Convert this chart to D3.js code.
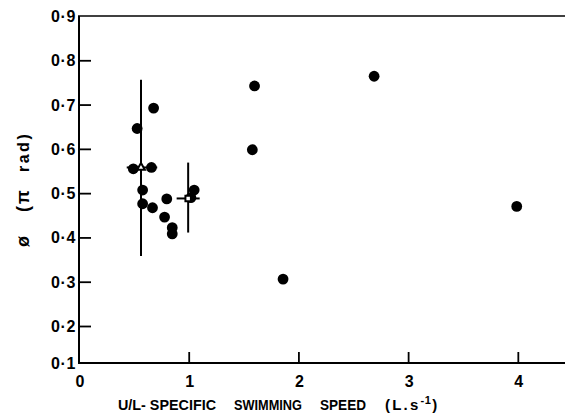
<!DOCTYPE html>
<html>
<head>
<meta charset="utf-8">
<script src="https://cdn.jsdelivr.net/npm/d3@7"></script>
<style>
  html, body { margin: 0; padding: 0; background: #fff; }
  svg { display: block; }
  text { font-family: "Liberation Sans", Arial, Helvetica, sans-serif; font-weight: bold; fill: #000; -webkit-font-smoothing: antialiased; }
</style>
</head>
<body>
<svg id="chart" width="568" height="419"></svg>
<script>
// Individual fish: U/L-specific swimming speed (L/s) and phase (pi rad)
const speed = [0.68, 0.53, 0.495, 0.66, 0.58, 0.58, 0.67, 0.80, 0.78, 0.85, 0.85, 1.05, 1.02, 1.60, 1.58, 1.86, 2.69, 3.99];
const phase = [0.692, 0.646, 0.555, 0.558, 0.507, 0.476, 0.467, 0.487, 0.446, 0.422, 0.408, 0.507, 0.49, 0.742, 0.598, 0.306, 0.764, 0.47];

// Group means with ranges
const meanShape = ["triangle", "square"];
const meanSpeed = [0.565, 0.995];
const meanPhase = [0.558, 0.488];
const speedLo = [0.435, 0.89];
const speedHi = [0.713, 1.10];
const phaseLo = [0.358, 0.411];
const phaseHi = [0.756, 0.569];

// Tick labels
const xTicks = [0, 1, 2, 3, 4];
const xTickLabels = ["0", "1", "2", "3", "4"];
const yTicks = [0.2, 0.3, 0.4, 0.5, 0.6, 0.7, 0.8, 0.9];
const yTickLabels = ["0·2", "0·3", "0·4", "0·5", "0·6", "0·7", "0·8", "0·9"];
const yBottomLabel = "0·1";

// Axis title pieces
const xTitleWords = ["U/L- SPECIFIC", "SWIMMING", "SPEED"];
const xTitleWordX = [118, 234, 320];
const xTitleWordW = [98, 68, 46];
const yTitleParts = ["ø", "(π", "rad)"];

const svg = d3.select("#chart");

const x = d3.scaleLinear().domain([0, 4.43]).range([79, 565]);
// original figure has a compressed lowest interval
const y = d3.scaleLinear().domain([0.1, 0.2, 0.9]).range([363, 326, 16]);

const g = svg.append("g");

// frame lines
g.append("line").attr("x1", x(0)).attr("x2", x(0)).attr("y1", y(0.9)).attr("y2", y(0.1))
  .attr("stroke", "#000").attr("stroke-width", 2);
g.append("line").attr("x1", x(0) - 1).attr("x2", x(4.43)).attr("y1", y(0.1)).attr("y2", y(0.1))
  .attr("stroke", "#000").attr("stroke-width", 2);
g.append("line").attr("x1", x(0) - 1).attr("x2", x(4.43)).attr("y1", y(0.9)).attr("y2", y(0.9))
  .attr("stroke", "#000").attr("stroke-width", 1.6);

// y axis (ticks inward)
const yAxis = d3.axisRight(y).tickValues(yTicks.slice(0, -1)).tickSize(12).tickFormat("");
const ya = g.append("g").attr("transform", `translate(${x(0)},0)`).call(yAxis);
ya.select(".domain").remove();
ya.selectAll(".tick line").attr("stroke", "#000").attr("stroke-width", 1.8);

g.selectAll(".ylab").data(yTicks).join("text")
  .attr("class", "ylab")
  .attr("x", x(0) - 3).attr("y", d => y(d) + 6)
  .attr("text-anchor", "end").attr("font-size", 16).attr("letter-spacing", 0.6)
  .text((d, i) => yTickLabels[i]);
g.append("text").attr("x", x(0) - 3).attr("y", y(0.1) + 6)
  .attr("text-anchor", "end").attr("font-size", 16).attr("letter-spacing", 0.6).text(yBottomLabel);

// x axis (ticks upward)
const xAxis = d3.axisTop(x).tickValues(xTicks.slice(1)).tickSize(11).tickFormat("");
const xa = g.append("g").attr("transform", `translate(0,${y(0.1)})`).call(xAxis);
xa.select(".domain").remove();
xa.selectAll(".tick line").attr("stroke", "#000").attr("stroke-width", 1.8);

g.selectAll(".xlab").data(xTicks).join("text")
  .attr("class", "xlab")
  .attr("x", d => x(d) + 1).attr("y", y(0.1) + 24)
  .attr("text-anchor", "middle").attr("font-size", 16)
  .text((d, i) => xTickLabels[i]);

// x axis title
g.selectAll(".xtw").data(xTitleWords).join("text")
  .attr("class", "xtw")
  .attr("x", (d, i) => xTitleWordX[i]).attr("y", 410)
  .attr("font-size", 15)
  .attr("textLength", (d, i) => xTitleWordW[i]).attr("lengthAdjust", "spacingAndGlyphs")
  .text(d => d);
const unit = g.append("text").attr("x", 385).attr("y", 410).attr("font-size", 15).attr("letter-spacing", 2.2);
unit.append("tspan").text("(L.s");
unit.append("tspan").attr("dy", -6).attr("font-size", 11).attr("letter-spacing", 0.5).text("-1");
unit.append("tspan").attr("dy", 6).attr("dx", 1).text(")");

// y axis title (rotated)
const yt = g.append("text").attr("transform", "translate(29,0) rotate(-90)").attr("font-size", 18);
yt.append("tspan").attr("x", -247).text(yTitleParts[0]);
yt.append("tspan").attr("x", -212).attr("letter-spacing", 2).text(yTitleParts[1]);
yt.append("tspan").attr("x", -172).attr("font-size", 16).attr("letter-spacing", 2.5).text(yTitleParts[2]);

// data points
g.selectAll(".pt").data(speed).join("circle")
  .attr("class", "pt")
  .attr("cx", d => x(d)).attr("cy", (d, i) => y(phase[i]))
  .attr("r", 5.4).attr("fill", "#000");

// range bars
const bars = g.append("g");
meanSpeed.forEach((m, i) => {
  bars.append("line").attr("x1", x(m)).attr("x2", x(m))
    .attr("y1", y(phaseHi[i])).attr("y2", y(phaseLo[i]))
    .attr("stroke", "#000").attr("stroke-width", 2);
  bars.append("line").attr("x1", x(speedLo[i])).attr("x2", x(speedHi[i]))
    .attr("y1", y(meanPhase[i])).attr("y2", y(meanPhase[i]))
    .attr("stroke", "#000").attr("stroke-width", 2);
});

// mean markers
const symType = { triangle: d3.symbolTriangle, square: d3.symbolSquare };
g.selectAll(".mean").data(meanSpeed).join("path")
  .attr("class", "mean")
  .attr("transform", (d, i) => `translate(${x(d)},${y(meanPhase[i])})`)
  .attr("d", (d, i) => d3.symbol().type(symType[meanShape[i]]).size(meanShape[i] === "triangle" ? 26 : 30)())
  .attr("fill", "#fff").attr("stroke", "#000").attr("stroke-width", 2);
</script>
</body>
</html>
